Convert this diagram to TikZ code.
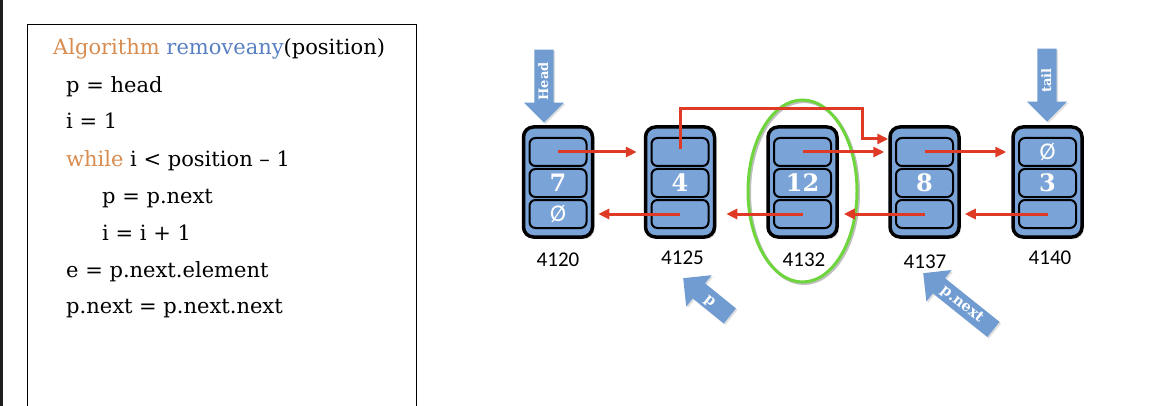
\documentclass[tikz,border=0pt]{standalone}
\usepackage{fontspec}
\setmainfont{DejaVu Serif}
\newfontfamily\codefont{DejaVu Serif}
\newfontfamily\numfont{Carlito}
\newfontfamily\cellfont{DejaVu Serif}
\newfontfamily\tagfont{DejaVu Serif}
\usetikzlibrary{arrows.meta,shapes.geometric,shapes.arrows,shadows}

\definecolor{algorange}{RGB}{216,140,80}
\definecolor{algblue}{RGB}{90,128,196}
\definecolor{cellblue}{RGB}{122,163,215}
\definecolor{ptrblue}{RGB}{112,156,210}
\definecolor{linkred}{RGB}{222,58,38}
\definecolor{selgreen}{RGB}{110,214,60}
\definecolor{edgegray}{RGB}{30,30,30}

\begin{document}
\begin{tikzpicture}[x=1pt,y=-1pt,
  codeline/.style={anchor=base west, inner sep=0pt, font=\codefont\fontsize{21}{21}\selectfont},
  listnode/.style={draw=black, line width=3.5pt, fill=cellblue, rounded corners=10pt,
    minimum width=69pt, minimum height=110pt, inner sep=0pt,
    drop shadow={opacity=0.3, shadow xshift=2pt, shadow yshift=-2pt}},
  cell/.style={draw=black, line width=2pt, fill=cellblue, rounded corners=6pt,
    minimum width=57pt, minimum height=28pt, inner sep=0pt, text=white,
    font=\cellfont\bfseries\fontsize{24}{24}\selectfont},
  nullmark/.style={font=\numfont\fontsize{24}{24}\selectfont},
  link/.style={draw=linkred, line width=3pt, -{Triangle[length=11pt,width=10pt]}},
  addr/.style={font=\numfont\fontsize{21}{21}\selectfont, inner sep=0pt},
  ptr/.style={single arrow, fill=ptrblue, anchor=tip, shape border rotate=180,
    single arrow head extend=10.5pt, single arrow tip angle=90,
    text=white, font=\tagfont\bfseries\fontsize{13}{13}\selectfont,
    text height=10pt, text depth=2pt, inner xsep=2pt, inner ysep=3.5pt,
    drop shadow={opacity=0.25, shadow xshift=1.5pt, shadow yshift=-1.5pt}}
]
\useasboundingbox (0,0) rectangle (1166,406);
\fill[white] (0,0) rectangle (1166,406);
\fill[edgegray] (0,0) rectangle (3,406);

% algorithm panel
\draw[line width=1pt] (27,25) rectangle (416,420);
\node[codeline] (t1) at (53,55) {\textcolor{algorange}{Algorithm} \textcolor{algblue}{removeany}(position)};
\node[codeline] (t2) at (66,93) {p = head};
\node[codeline] (t3) at (66,129) {i = 1};
\node[codeline] (t4) at (66,167) {\textcolor{algorange}{while} i < position – 1};
\node[codeline] (t5) at (102,203) {p = p.next};
\node[codeline] (t6) at (102,240) {i = i + 1};
\node[codeline] (t7) at (66,277) {e = p.next.element};
\node[codeline] (t8) at (66,313) {p.next = p.next.next};

% selection ring around the node being removed
\draw[black!25, line width=3pt] (804,192.5) ellipse [x radius=54.5pt, y radius=91pt];
\node[ellipse, draw=selgreen, line width=3pt, minimum width=109pt, minimum height=182pt] (sel) at (802.5,191) {};

% list nodes: next / element / prev
\foreach \n/\x/\v in {1/558/7, 2/680/4, 3/802.5/12, 4/924.5/8, 5/1047.5/3}{
  \node[listnode] (n\n) at (\x,182) {};
  \node[cell] (n\n a) at (\x,152) {};
  \node[cell] (n\n b) at (\x,183) {\v};
  \node[cell] (n\n c) at (\x,214) {};
}
\node[nullmark, text=white] (z1) at (n1c) {Ø};
\node[nullmark, text=white] (z5) at (n5a) {Ø};

% addresses
\node[addr] (a1) at (558,260) {4120};
\node[addr] (a2) at (682.5,258) {4125};
\node[addr] (a3) at (804,260) {4132};
\node[addr] (a4) at (925,262) {4137};
\node[addr] (a5) at (1050,258) {4140};

% links
\draw[link, shorten >=7pt] (n1a.center) -- (n1a.center -| n2.west);
\draw[link, shorten >=4pt] (n2c.center) -- (n2c.center -| n1.east);
\coordinate (b1) at (680,109);
\coordinate (b2) at (862,109);
\coordinate (b3) at (862,139);
\draw[link, line join=miter] (680,149) -- (b1) -- (b2) -- (b3) -- (b3 -| n4.west);
\draw[link, shorten >=4pt] (n3a.center) -- (n3a.center -| n4.west);
\draw[link, shorten >=5pt] (n4a.center) -- (n4a.center -| n5.west);
\draw[link, shorten >=4pt] (n5c.center) -- (n5c.center -| n4.east);
\draw[link, shorten >=5pt] (n4c.center) -- (n4c.center -| n3.east);
\draw[link, shorten >=10pt] (n3c.center) -- (n3c.center -| n2.east);

% pointer arrows
\node[ptr, rotate=90, minimum height=73pt] (head) at (544,123) {Head};
\node[ptr, rotate=90, minimum height=73pt] (tail) at (1047,122) {tail};
\node[ptr, rotate=-39, minimum height=60pt, font=\tagfont\bfseries\fontsize{14.5}{14.5}\selectfont] (pp) at (683,278) {p};
\node[ptr, rotate=-38.7, minimum height=90pt, font=\tagfont\bfseries\fontsize{14.5}{14.5}\selectfont] (pn) at (923,273) {p.next};
\end{tikzpicture}
\end{document}
